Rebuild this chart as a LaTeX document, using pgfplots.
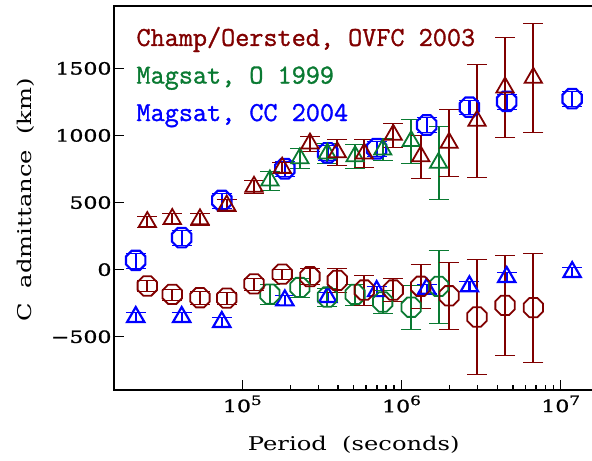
\documentclass[border=0pt]{standalone}
\usepackage{fontspec}
\usepackage{pgfplots}
\usepackage{pgfplotstable}
\pgfplotsset{compat=1.18}
\newfontfamily\axfont[FakeStretch=1.28]{DejaVu Serif}
\newfontfamily\tickfont[FakeStretch=1.3,FakeBold=1.2]{DejaVu Serif}
\newfontfamily\legfont[FakeBold=1.2]{Latin Modern Mono}
\definecolor{champ}{RGB}{128,0,0}
\definecolor{mgO}{RGB}{10,122,50}
\definecolor{mgCC}{RGB}{0,0,255}

% open octagon, flat top and bottom
\pgfdeclareplotmark{oct}{%
  \pgfpathmoveto{\pgfpointpolar{22.5}{\pgfplotmarksize}}%
  \pgfpathlineto{\pgfpointpolar{67.5}{\pgfplotmarksize}}%
  \pgfpathlineto{\pgfpointpolar{112.5}{\pgfplotmarksize}}%
  \pgfpathlineto{\pgfpointpolar{157.5}{\pgfplotmarksize}}%
  \pgfpathlineto{\pgfpointpolar{202.5}{\pgfplotmarksize}}%
  \pgfpathlineto{\pgfpointpolar{247.5}{\pgfplotmarksize}}%
  \pgfpathlineto{\pgfpointpolar{292.5}{\pgfplotmarksize}}%
  \pgfpathlineto{\pgfpointpolar{337.5}{\pgfplotmarksize}}%
  \pgfpathclose\pgfusepathqstroke}

% Champ/Oersted, OVFC 2003
\pgfplotstableread{
x       re    ere  im    eim
2.53e4  355   40   -122  40
3.63e4  378   40   -184  40
5.42e4  375   45   -209  45
7.98e4  478   45   -212  45
1.184e5 618   45   -106  45
1.78e5  760   40   -33   40
2.66e5  940   55   -52   60
3.95e5  875   95   -80   90
5.83e5  865   105  -152  110
8.87e5  1005  90   -152  85
1.32e6  845   160  -124  163
1.99e6  945   248  -195  252
2.98e6  1110  424  -353  428
4.47e6  1358  372  -266  375
6.73e6  1430  405  -283  406
}\champ

% Magsat, O 1999
\pgfplotstableread{
x       re    ere  im    eim
1.49e5  665   70   -182  75
2.30e5  830   72   -132  70
3.42e5  865   75   -204  65
5.11e5  845   90   -185  80
7.62e5  895   83   -241  85
1.15e6  958   166  -280  166
1.71e6  796   273  -125  272
}\magO

% Magsat, CC 2004
\pgfplotstableread{
x       re    ere  im    eim
2.14e4  69    55   -353  37
4.16e4  238   55   -353  37
7.43e4  516   55   -390  37
1.85e5  752   55   -229  37
3.44e5  871   55   -204  37
6.98e5  901   55   -160  37
1.44e6  1078  55   -142  37
2.67e6  1211  55   -124  37
4.58e6  1254  55   -55   37
1.18e7  1274  55   -18   37
}\magCC

\begin{document}
\begin{tikzpicture}
\useasboundingbox (0,0) rectangle (592bp,461bp);
\begin{axis}[
  at={(114bp,71bp)}, anchor=south west,
  scale only axis, width=479.5bp, height=384bp,
  xmode=log, xmin=1.563e4, xmax=1.607e7,
  ymin=-897, ymax=1965,
  axis line style={line width=1.6pt},
  tick align=inside,
  xtick pos=bottom, ytick pos=left,
  major tick length=10bp, minor tick length=5bp,
  every tick/.style={black, line width=1.5pt},
  xtick={1e5,1e6,1e7},
  xticklabels={{10\raisebox{0.42em}{\fontsize{13}{13}\selectfont 5}},
               {10\raisebox{0.42em}{\fontsize{13}{13}\selectfont 6}},
               {10\raisebox{0.42em}{\fontsize{13}{13}\selectfont 7}}},
  ytick={-500,0,500,1000,1500},
  yticklabels={−500,0,500,1000,1500},
  xticklabel style={font=\tickfont\fontsize{17}{17}\selectfont, yshift=-2bp},
  yticklabel style={font=\tickfont\fontsize{17}{17}\selectfont, xshift=1bp},
  label style={font=\axfont\fontsize{19}{20}\selectfont},
  xlabel={Period\ \ (seconds)},
  ylabel={C\ \ admittance\ \ (km)},
  xlabel style={at={(axis description cs:0.5,-0.158)}, anchor=base},
  ylabel style={at={(axis description cs:-0.1716,0.495)}, anchor=base},
  clip=false,
  error bars/y dir=both, error bars/y explicit,
  error bars/error mark options={rotate=90, mark size=10pt},
]
% blue: Magsat CC 2004
\addplot[mgCC, line width=2.2pt, only marks, mark=oct, mark size=10.5pt,
  error bars/error bar style={line width=2.2pt}]
  table[x=x, y=re, y error=ere] {\magCC};
\addplot[mgCC, line width=2.2pt, only marks, mark=triangle, mark size=10pt,
  error bars/error bar style={line width=2.2pt}]
  table[x=x, y=im, y error=eim] {\magCC};
% green: Magsat O 1999
\addplot[mgO, line width=1.8pt, only marks, mark=triangle, mark size=10pt,
  error bars/error bar style={line width=1.8pt}]
  table[x=x, y=re, y error=ere] {\magO};
\addplot[mgO, line width=1.8pt, only marks, mark=oct, mark size=10.5pt,
  error bars/error bar style={line width=1.8pt}]
  table[x=x, y=im, y error=eim] {\magO};
% red: Champ/Oersted OVFC 2003
\addplot[champ, line width=1.8pt, only marks, mark=triangle, mark size=10pt,
  error bars/error bar style={line width=1.8pt}]
  table[x=x, y=re, y error=ere] {\champ};
\addplot[champ, line width=1.8pt, only marks, mark=oct, mark size=10.5pt,
  error bars/error bar style={line width=1.8pt}]
  table[x=x, y=im, y error=eim] {\champ};

\node[anchor=base west, text=champ, font=\legfont\fontsize{27.5}{28}\selectfont]
  at (rel axis cs:0.0396,0.896) {Champ/Oersted, OVFC 2003};
\node[anchor=base west, text=mgO, font=\legfont\fontsize{27.5}{28}\selectfont]
  at (rel axis cs:0.0396,0.798) {Magsat, O 1999};
\node[anchor=base west, text=mgCC, font=\legfont\fontsize{27.5}{28}\selectfont]
  at (rel axis cs:0.0396,0.7005) {Magsat, CC 2004};
\end{axis}
\end{tikzpicture}
\end{document}
